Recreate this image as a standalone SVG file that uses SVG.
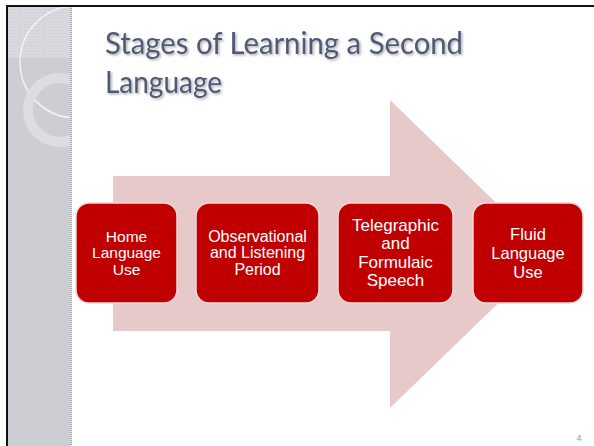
<svg xmlns="http://www.w3.org/2000/svg" width="594" height="446" viewBox="0 0 594 446">
<defs>
<pattern id="grid" width="3" height="3" patternUnits="userSpaceOnUse">
<rect width="3" height="3" fill="#d8d9de"/>
<rect width="1" height="1" fill="#c8c9cf"/>
</pattern>
<pattern id="dots" width="2" height="2" patternUnits="userSpaceOnUse">
<rect width="2" height="1" fill="#a9aab0"/>
<rect y="1" width="2" height="1" fill="#e4e4e8"/>
</pattern>
<filter id="sh" x="-5%" y="-5%" width="110%" height="120%">
<feDropShadow dx="1.5" dy="1.5" stdDeviation="0.8" flood-color="#9a9aa0" flood-opacity="0.8"/>
</filter>
<clipPath id="side"><rect x="8" y="7" width="63" height="439"/></clipPath>
</defs>
<style>
.box{fill:#c00000;stroke:#f3d6d6;stroke-width:1.5}
.lbl{font-family:"Liberation Sans",Arial,sans-serif;fill:#ffffff;text-anchor:middle}
.title{font-family:Lato,"Open Sans",sans-serif;font-size:30px;fill:#4f5a77}
</style>
<rect width="594" height="446" fill="#ffffff"/>
<!-- sidebar -->
<g id="sidebar">
<rect x="8" y="7" width="64" height="439" fill="#cdced4"/>
<g clip-path="url(#side)">
<rect x="8" y="7" width="64" height="51" fill="url(#grid)"/>
<circle cx="76" cy="62" r="56" fill="none" stroke="#f2f2f4" stroke-width="1.5"/>
<circle cx="60" cy="110" r="32" fill="none" stroke="#dcdde1" stroke-width="10"/>
</g>
<rect x="70" y="7" width="2" height="439" fill="url(#dots)"/>
</g>
<rect x="6" y="5" width="588" height="2" fill="#111"/>
<rect x="6" y="5" width="2" height="441" fill="#111"/>
<!-- title -->
<g id="title" filter="url(#sh)">
<text class="title" x="105" y="54" textLength="358" lengthAdjust="spacingAndGlyphs">Stages of Learning a Second</text>
<text class="title" x="105" y="93" textLength="117" lengthAdjust="spacingAndGlyphs">Language</text>
</g>
<!-- big arrow -->
<g id="arrow">
<polygon points="113,176 390,176 390,100 549,254 390,408 390,331 113,331" fill="#e8c9ca"/>
</g>
<g id="n1">
<rect class="box" x="76" y="203" width="101" height="100" rx="13"/>
<text class="lbl" font-size="15.5" x="126.5" y="242">Home</text>
<text class="lbl" font-size="15.5" x="126.5" y="258">Language</text>
<text class="lbl" font-size="15.5" x="126.5" y="275">Use</text>
</g>
<g id="n2">
<rect class="box" x="196" y="203" width="123" height="100" rx="13"/>
<text class="lbl" font-size="16" x="257.5" y="242">Observational</text>
<text class="lbl" font-size="16" x="257.5" y="258">and Listening</text>
<text class="lbl" font-size="16" x="257.5" y="275">Period</text>
</g>
<g id="n3">
<rect class="box" x="338" y="203" width="115" height="100" rx="13"/>
<text class="lbl" font-size="17" x="395.5" y="231">Telegraphic</text>
<text class="lbl" font-size="17" x="395.5" y="249">and</text>
<text class="lbl" font-size="17" x="395.5" y="268">Formulaic</text>
<text class="lbl" font-size="17" x="395.5" y="286">Speech</text>
</g>
<g id="n4">
<rect class="box" x="473" y="203" width="110" height="100" rx="13"/>
<text class="lbl" font-size="16.5" x="528" y="240">Fluid</text>
<text class="lbl" font-size="16.5" x="528" y="259">Language</text>
<text class="lbl" font-size="16.5" x="528" y="278">Use</text>
</g>
<text x="579" y="441" font-family="Liberation Sans,sans-serif" font-size="9" fill="#9a9a9a" text-anchor="middle">4</text>
</svg>
